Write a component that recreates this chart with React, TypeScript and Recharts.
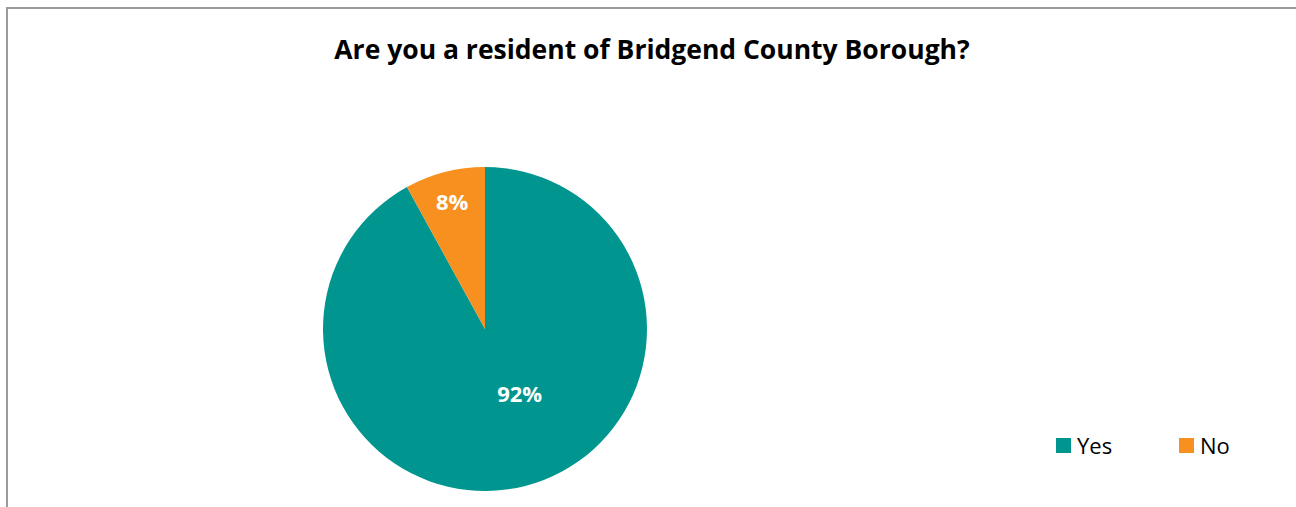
import React from "react";
import { PieChart, Pie, Cell, Legend } from "recharts";

const categories = ["Yes", "No"];
const values = [92, 8];
const colors = ["#00968F", "#F7901E"];

const data = categories.map((name, i) => ({ name, value: values[i] }));

const RAD = Math.PI / 180;
const FONT = "'Open Sans', Lato, sans-serif";

const renderLabel = (props: any) => {
  const { cx, cy, midAngle, outerRadius, percent } = props;
  let r: number;
  let ang: number;
  if (percent > 0.5) {
    r = outerRadius * 0.45;
    ang = midAngle + 14;
  } else {
    r = outerRadius * 0.815;
    ang = midAngle;
  }
  const x = cx + r * Math.cos(-ang * RAD);
  const y = cy + r * Math.sin(-ang * RAD);
  return (
    <text
      x={x}
      y={y}
      fill="#ffffff"
      textAnchor="middle"
      dominantBaseline="central"
      fontFamily={FONT}
      fontWeight={700}
      fontSize={22}
    >
      {`${Math.round(percent * 100)}%`}
    </text>
  );
};

const LegendContent = () => (
  <div style={{ display: "flex", fontFamily: FONT, fontSize: 22, color: "#000", lineHeight: "26px" }}>
    {categories.map((c, i) => (
      <div key={c} style={{ display: "flex", alignItems: "center", width: 123 }}>
        <span
          style={{
            display: "inline-block",
            width: 15,
            height: 15,
            background: colors[i],
            marginRight: 6,
          }}
        />
        <span>{c}</span>
      </div>
    ))}
  </div>
);

export default function App() {
  return (
    <div
      style={{
        position: "absolute",
        left: 0,
        top: 0,
        width: 1296,
        height: 507,
        overflow: "hidden",
        background: "#fff",
      }}
    >
      <div
        style={{
          position: "absolute",
          left: 6,
          top: 7,
          width: 1300,
          height: 510,
          borderLeft: "2px solid #9a9a9a",
          borderTop: "2px solid #9a9a9a",
          boxSizing: "border-box",
        }}
      />
      <div
        style={{
          position: "absolute",
          left: 0,
          top: 31,
          width: 1304,
          textAlign: "center",
          fontFamily: FONT,
          fontWeight: 700,
          fontSize: 26.5,
          color: "#000",
        }}
      >
        Are you a resident of Bridgend County Borough?
      </div>
      <div style={{ position: "absolute", left: 0, top: 0 }}>
        <PieChart width={1296} height={507} margin={{ top: 0, right: 0, bottom: 0, left: 0 }}>
          <Pie
            data={data}
            dataKey="value"
            nameKey="name"
            cx={485}
            cy={329}
            outerRadius={162}
            startAngle={90}
            endAngle={-270}
            stroke="none"
            label={renderLabel}
            labelLine={false}
            isAnimationActive={false}
          >
            {data.map((d, i) => (
              <Cell key={d.name} fill={colors[i]} />
            ))}
          </Pie>
          <Legend
            content={<LegendContent />}
            wrapperStyle={{ position: "absolute", left: 1056, top: 432, width: 250 }}
          />
        </PieChart>
      </div>
    </div>
  );
}
